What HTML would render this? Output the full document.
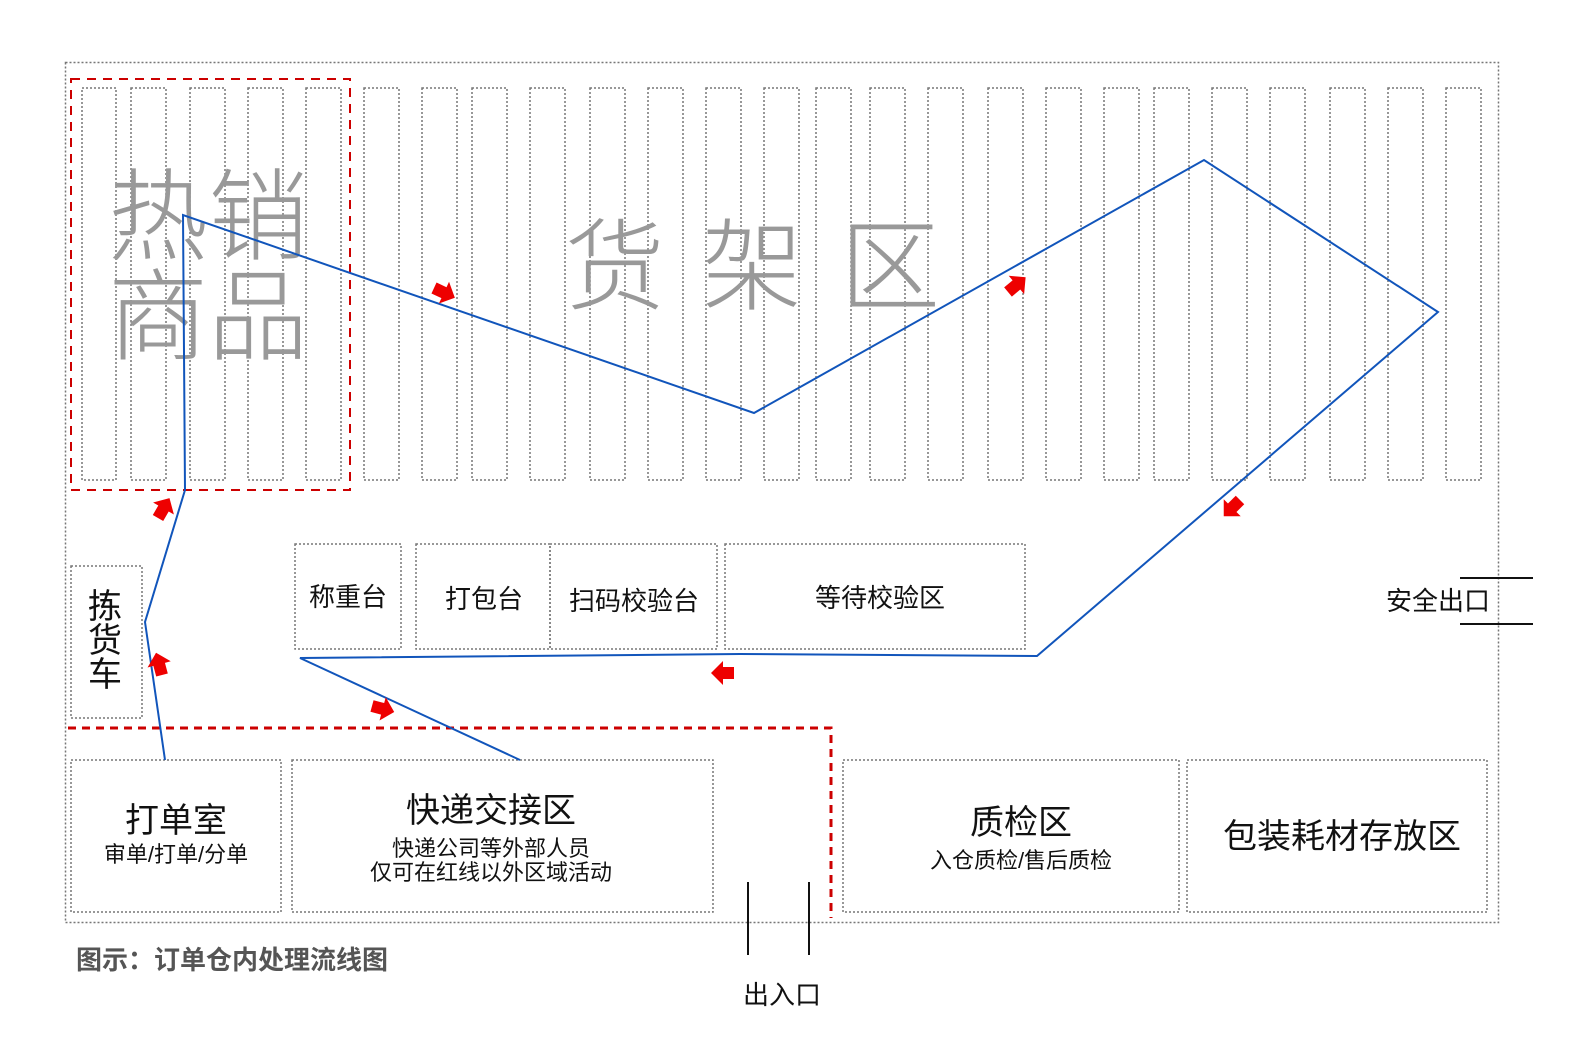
<!DOCTYPE html>
<html><head><meta charset="utf-8"><style>
html,body{margin:0;padding:0;background:#fff;overflow:hidden;width:1588px;height:1060px;}
svg{display:block;}
svg text{font-family:"Liberation Sans","Noto Sans CJK SC",sans-serif;}
</style></head><body>
<svg width="1588" height="1060" xmlns="http://www.w3.org/2000/svg">
<defs>
<polygon id="ar" points="0,-6 11,-6 11,-12 23,0 11,12 11,6 0,6" fill="#e00"/>
</defs>
<rect x="65.5" y="62.5" width="1433" height="860" fill="none" stroke="#777" stroke-width="1.5" stroke-dasharray="2,2"/>
<g fill="none" stroke="#777" stroke-width="1.5" stroke-dasharray="2,2">
<rect x="82" y="88" width="34" height="392"/><rect x="131" y="88" width="35" height="392"/><rect x="190" y="88" width="35" height="392"/><rect x="248" y="88" width="35" height="392"/><rect x="306" y="88" width="35" height="392"/>
<rect x="364" y="88" width="35" height="392"/><rect x="422" y="88" width="35" height="392"/><rect x="472" y="88" width="35" height="392"/><rect x="530" y="88" width="35" height="392"/><rect x="590" y="88" width="35" height="392"/>
<rect x="648" y="88" width="35" height="392"/><rect x="706" y="88" width="35" height="392"/><rect x="764" y="88" width="35" height="392"/><rect x="816" y="88" width="35" height="392"/><rect x="870" y="88" width="35" height="392"/>
<rect x="928" y="88" width="35" height="392"/><rect x="988" y="88" width="35" height="392"/><rect x="1046" y="88" width="35" height="392"/><rect x="1104" y="88" width="35" height="392"/><rect x="1154" y="88" width="35" height="392"/>
<rect x="1212" y="88" width="35" height="392"/><rect x="1270" y="88" width="35" height="392"/><rect x="1330" y="88" width="35" height="392"/><rect x="1388" y="88" width="35" height="392"/><rect x="1446" y="88" width="35" height="392"/>
<rect x="71" y="566" width="71" height="152"/>
<rect x="295" y="544" width="106" height="105"/><rect x="416" y="544" width="134" height="105"/><rect x="550" y="544" width="167" height="105"/><rect x="725" y="544" width="300" height="105"/>
<rect x="71" y="760" width="210" height="152"/><rect x="292" y="760" width="421" height="152"/><rect x="843" y="760" width="336" height="152"/><rect x="1187" y="760" width="300" height="152"/>
</g>
<rect x="71" y="79" width="279" height="411" fill="none" stroke="#c00" stroke-width="2" stroke-dasharray="9,7"/>
<polyline points="68,728 831,728 831,918" fill="none" stroke="#c00" stroke-width="3" stroke-dasharray="8,6"/>
<g fill="#999" font-size="100" font-weight="300">
<text x="108" y="252">热销</text><text x="108" y="352">商品</text>
<text x="565" y="302">货</text><text x="702" y="302">架</text><text x="840" y="302">区</text>
</g>
<polyline points="165,760 145,622 185,490 183,215 754,413 1204,160 1438,312 1037,656 740,654 300,658 520,760" fill="none" stroke="#1155bb" stroke-width="2"/>
<use href="#ar" transform="translate(434,288) rotate(25)"/>
<use href="#ar" transform="translate(1008,292) rotate(-40)"/>
<use href="#ar" transform="translate(158,518) rotate(-60)"/>
<use href="#ar" transform="translate(162,675) rotate(-105)"/>
<use href="#ar" transform="translate(372,706) rotate(15)"/>
<use href="#ar" transform="translate(734,673) rotate(180)"/>
<use href="#ar" transform="translate(1240,500) rotate(135)"/>
<g fill="#111">
<text x="88" y="618" font-size="34">拣</text><text x="88" y="652" font-size="34">货</text><text x="88" y="686" font-size="34">车</text>
<text x="348" y="606" font-size="26" text-anchor="middle">称重台</text>
<text x="484" y="608" font-size="26" text-anchor="middle">打包台</text>
<text x="634" y="610" font-size="26" text-anchor="middle">扫码校验台</text>
<text x="880" y="607" font-size="26" text-anchor="middle">等待校验区</text>
<text x="1438" y="610" font-size="26" text-anchor="middle">安全出口</text>
<text x="176" y="832" font-size="34" text-anchor="middle">打单室</text>
<text x="176" y="862" font-size="22" text-anchor="middle">审单/打单/分单</text>
<text x="491" y="822" font-size="34" text-anchor="middle">快递交接区</text>
<text x="491" y="856" font-size="22" text-anchor="middle">快递公司等外部人员</text>
<text x="491" y="880" font-size="22" text-anchor="middle">仅可在红线以外区域活动</text>
<text x="1021" y="834" font-size="34" text-anchor="middle">质检区</text>
<text x="1021" y="868" font-size="22" text-anchor="middle">入仓质检/售后质检</text>
<text x="1342" y="848" font-size="34" text-anchor="middle">包装耗材存放区</text>
<text x="782" y="1004" font-size="26" text-anchor="middle">出入口</text>
</g>
<text x="76" y="969" font-size="26" font-weight="bold" fill="#555">图示：订单仓内处理流线图</text>
<g stroke="#111" stroke-width="2">
<line x1="748" y1="882" x2="748" y2="955"/><line x1="809" y1="882" x2="809" y2="955"/>
<line x1="1460" y1="578" x2="1533" y2="578"/><line x1="1460" y1="624" x2="1533" y2="624"/>
</g>
</svg>
</body></html>
